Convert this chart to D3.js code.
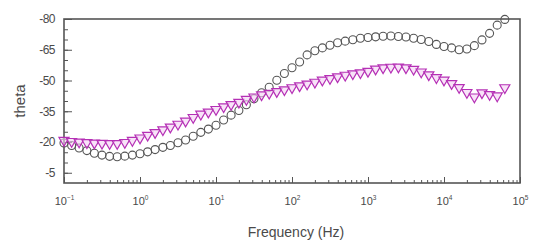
<!DOCTYPE html>
<html>
<head>
<meta charset="utf-8">
<script src="https://cdn.jsdelivr.net/npm/d3@7"></script>
<style>
  body { margin: 0; background: #fff; }
  text { font-family: "Liberation Sans", Arial, sans-serif; fill: #4a4a4a; }
</style>
</head>
<body>
<div id="chart"></div>
<script>
// frequency (Hz), 10 points per decade
var freq = [0.1, 0.126, 0.158, 0.2, 0.251, 0.316, 0.398, 0.501, 0.631, 0.794,
    1, 1.26, 1.58, 2, 2.51, 3.16, 3.98, 5.01, 6.31, 7.94,
    10, 12.6, 15.8, 20, 25.1, 31.6, 39.8, 50.1, 63.1, 79.4,
    100, 126, 158, 200, 251, 316, 398, 501, 631, 794,
    1000, 1260, 1580, 2000, 2510, 3160, 3980, 5010, 6310, 7940,
    10000, 12600, 15800, 20000, 25100, 31600, 39800, 50100, 63100];

// theta, circle series
var thetaCircle = [-19.5, -18.3, -17.1, -15.8, -14.5, -13.6, -13.0, -12.8, -13.1, -13.6,
    -14.3, -15.2, -16.3, -17.4, -18.3, -19.6, -21.0, -22.8, -24.7, -26.3,
    -28.2, -30.7, -33.1, -35.4, -38.2, -41.1, -44.0, -46.7, -50.1, -53.4,
    -56.2, -59.0, -62.5, -64.5, -65.9, -67.2, -68.4, -69.2, -69.9, -70.6,
    -71.0, -71.3, -71.6, -71.7, -71.5, -71.2, -70.6, -70.0, -69.0, -67.6,
    -66.6, -65.9, -65.0, -65.4, -67.0, -69.8, -73.0, -77.0, -79.8];

// theta, triangle series
var thetaTriangle = [-20.8, -20.3, -20.0, -19.7, -19.5, -19.4, -19.3, -19.3, -19.8, -20.8,
    -22.0, -23.3, -24.6, -26.0, -27.3, -28.7, -30.2, -32.0, -33.6, -34.6,
    -35.9, -37.2, -38.3, -39.4, -40.8, -42.0, -43.0, -43.8, -44.6, -45.5,
    -46.5, -47.4, -48.3, -49.2, -50.2, -51.0, -51.8, -52.6, -53.3, -53.8,
    -54.5, -55.6, -56.2, -56.5, -56.6, -56.2, -55.5, -54.2, -52.8, -51.4,
    -50.2, -48.5, -46.6, -44.2, -42.0, -44.0, -43.2, -42.5, -46.5];

var yTicks = [-80, -65, -50, -35, -20, -5];
var xTickExps = [-1, 0, 1, 2, 3, 4, 5];

var width = 536, height = 244;
var margin = { top: 19, right: 16, bottom: 61, left: 64 };
var plotW = width - margin.left - margin.right,
    plotH = height - margin.top - margin.bottom;

var svg = d3.select("#chart")
    .append("svg")
    .attr("width", width)
    .attr("height", height);

var g = svg.append("g")
    .attr("transform", "translate(" + margin.left + "," + margin.top + ")");

// scales
var x = d3.scaleLog().domain([0.1, 1e5]).range([0, plotW]);
var y = d3.scaleLinear().domain([0, -80]).range([plotH, 0]);

// minor ticks on x (2..9 of each decade)
var xMinor = [];
xTickExps.slice(0, -1).forEach(function (e) {
    for (var k = 2; k < 10; k++) xMinor.push(k * Math.pow(10, e));
});

g.append("g")
    .attr("transform", "translate(0," + plotH + ")")
    .call(d3.axisBottom(x).tickValues(xMinor).tickSize(-3).tickFormat(""))
    .call(function (a) { a.select(".domain").remove(); })
    .selectAll("line").attr("stroke", "#555");

var xAxis = g.append("g")
    .attr("transform", "translate(0," + plotH + ")")
    .call(d3.axisBottom(x)
        .tickValues(xTickExps.map(function (e) { return Math.pow(10, e); }))
        .tickSize(-6).tickPadding(14).tickFormat(""));
xAxis.select(".domain").remove();
xAxis.selectAll("line").attr("stroke", "#555");
xAxis.selectAll(".tick text").each(function (d) {
    var t = d3.select(this).attr("font-size", 11);
    t.append("tspan").text("10");
    t.append("tspan").attr("dy", -5).attr("font-size", 6.5)
        .text(String(Math.round(Math.log10(d))).replace("-", "\u2212"));
});

// y axis, minor every 5
g.append("g")
    .call(d3.axisLeft(y).tickValues(d3.range(-5, -80, -5)).tickSize(-4).tickFormat(""))
    .call(function (a) { a.select(".domain").remove(); })
    .selectAll("line").attr("stroke", "#555");

var yAxis = g.append("g")
    .call(d3.axisLeft(y).tickValues(yTicks).tickSize(-8).tickPadding(9)
        .tickFormat(function (d) { return d; }));
yAxis.select(".domain").remove();
yAxis.selectAll("line").attr("stroke", "#555");
yAxis.selectAll("text").attr("font-size", 12).attr("letter-spacing", -0.5);

// frame
g.append("rect")
    .attr("width", plotW).attr("height", plotH)
    .attr("fill", "none").attr("stroke", "#555").attr("stroke-width", 1.6);

// circle series
g.append("g")
    .selectAll("circle")
    .data(thetaCircle)
    .enter()
    .append("circle")
    .attr("cx", function (d, i) { return x(freq[i]); })
    .attr("cy", function (d) { return y(d); })
    .attr("r", 4)
    .attr("fill", "none")
    .attr("stroke", "#555")
    .attr("stroke-width", 1.1);

// triangle series (pointing down)
var tri = d3.symbol().type(d3.symbolTriangle).size(44);
g.append("g")
    .selectAll("path")
    .data(thetaTriangle)
    .enter()
    .append("path")
    .attr("d", tri)
    .attr("transform", function (d, i) {
        return "translate(" + x(freq[i]) + "," + y(d) + ") rotate(180)";
    })
    .attr("fill", "#f3d0f3")
    .attr("fill-opacity", 0.6)
    .attr("stroke", "#b530b5")
    .attr("stroke-width", 1.2);

// axis titles
svg.append("text")
    .attr("x", margin.left + plotW / 2 + 4)
    .attr("y", 237)
    .attr("text-anchor", "middle")
    .attr("font-size", 14)
    .text("Frequency (Hz)");

svg.append("text")
    .attr("transform", "translate(25,101) rotate(-90)")
    .attr("text-anchor", "middle")
    .attr("font-size", 15)
    .text("theta");
</script>
</body>
</html>
